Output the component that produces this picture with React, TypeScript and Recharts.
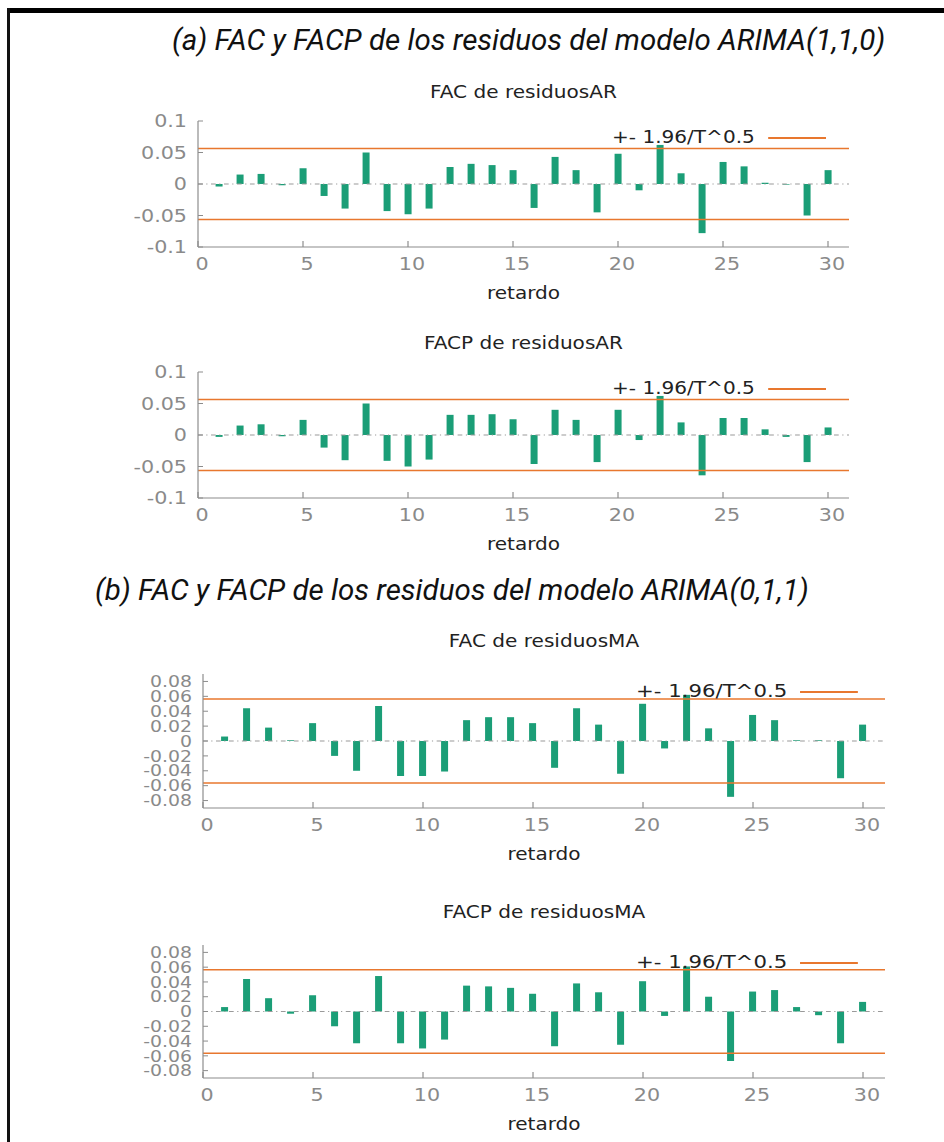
import { Bar, ComposedChart, Legend, ReferenceLine, XAxis, YAxis } from 'recharts';

// horizontal stretch of the original screenshot
const S = 1.18;
const FONT = '"DejaVu Sans", Verdana, sans-serif';
const HEAD_FONT = 'Roboto, "Noto Sans", sans-serif';

const lags = [1, 2, 3, 4, 5, 6, 7, 8, 9, 10, 11, 12, 13, 14, 15, 16, 17, 18, 19, 20, 21, 22, 23, 24, 25, 26, 27, 28, 29, 30];

const facAR = [-0.004, 0.015, 0.016, -0.002, 0.025, -0.019, -0.039, 0.05, -0.043, -0.048, -0.039, 0.027, 0.032, 0.03, 0.022, -0.038, 0.043, 0.022, -0.045, 0.048, -0.01, 0.062, 0.017, -0.078, 0.035, 0.028, 0.002, -0.001, -0.05, 0.022];
const facpAR = [-0.003, 0.015, 0.017, -0.002, 0.024, -0.02, -0.04, 0.05, -0.041, -0.05, -0.039, 0.032, 0.032, 0.033, 0.025, -0.046, 0.04, 0.024, -0.043, 0.04, -0.008, 0.062, 0.02, -0.064, 0.027, 0.027, 0.009, -0.003, -0.043, 0.012];
const facMA = [0.006, 0.044, 0.018, 0.001, 0.024, -0.02, -0.04, 0.047, -0.047, -0.047, -0.041, 0.028, 0.032, 0.032, 0.024, -0.036, 0.044, 0.022, -0.044, 0.05, -0.01, 0.062, 0.017, -0.075, 0.035, 0.028, 0.001, 0.001, -0.05, 0.022];
const facpMA = [0.006, 0.044, 0.018, -0.003, 0.022, -0.02, -0.043, 0.048, -0.043, -0.05, -0.038, 0.035, 0.034, 0.032, 0.024, -0.047, 0.038, 0.026, -0.045, 0.041, -0.006, 0.061, 0.02, -0.067, 0.027, 0.029, 0.006, -0.005, -0.043, 0.013];

const xTicks = [0, 5, 10, 15, 20, 25, 30];
const yTicksAR = [-0.1, -0.05, 0, 0.05, 0.1];
const yTicksMA = [-0.08, -0.06, -0.04, -0.02, 0, 0.02, 0.04, 0.06, 0.08];
const critical = 0.0565; // 1.96/T^0.5

const rows = lags.map((lag, i) => ({
  lag,
  facAR: facAR[i],
  facpAR: facpAR[i],
  facMA: facMA[i],
  facpMA: facpMA[i],
}));

const panels = [
  { key: 'facAR', title: 'FAC de residuosAR', domain: [-0.1, 0.1], ticks: yTicksAR, yFont: 17.5, legendFont: 17, left: 198, right: 849, top: 121, bottom: 247, titleGap: 29, legendLeft: 612 },
  { key: 'facpAR', title: 'FACP de residuosAR', domain: [-0.1, 0.1], ticks: yTicksAR, yFont: 17.5, legendFont: 17, left: 198, right: 849, top: 372, bottom: 498, titleGap: 29, legendLeft: 612 },
  { key: 'facMA', title: 'FAC de residuosMA', domain: [-0.09, 0.09], ticks: yTicksMA, yFont: 16, legendFont: 18, left: 203, right: 885, top: 674, bottom: 808, titleGap: 33, legendLeft: 636 },
  { key: 'facpMA', title: 'FACP de residuosMA', domain: [-0.09, 0.09], ticks: yTicksMA, yFont: 16, legendFont: 18, left: 203, right: 885, top: 945, bottom: 1078, titleGap: 33, legendLeft: 636 },
];

type Panel = (typeof panels)[number];

const LegendBox = ({ size }: { size: number }) => (
  <div style={{ display: 'flex', alignItems: 'center', fontFamily: FONT, fontSize: size, color: '#222', whiteSpace: 'nowrap' }}>
    <span>+- 1.96/T^0.5</span>
    <span style={{ display: 'inline-block', width: 58 / S, height: 2, background: '#e8772e', marginLeft: 13 / S, marginTop: 2 }} />
  </div>
);

function Correlogram({ p }: { p: Panel }) {
  const mt = 12;
  const xh = 70;
  const W = 944 / S;
  const plotH = p.bottom - p.top;
  const center = (p.left + p.right) / 2 / S;

  return (
    <>
      <div
        style={{
          position: 'absolute',
          top: p.top - p.titleGap - 10,
          left: center - 150,
          width: 300,
          textAlign: 'center',
          fontFamily: FONT,
          fontSize: 17,
          lineHeight: '20px',
          color: '#222',
        }}
      >
        {p.title}
      </div>
      <div style={{ position: 'absolute', top: p.top - mt, left: 0 }}>
        <ComposedChart
          width={W}
          height={mt + plotH + xh}
          data={rows}
          margin={{ top: mt, right: (944 - p.right) / S, bottom: 0, left: 0 }}
        >
          <XAxis
            dataKey="lag"
            type="number"
            domain={[0, 31]}
            ticks={xTicks}
            interval={0}
            allowDataOverflow
            height={xh}
            stroke="#8c8c8c"
            tickSize={-6}
            tickMargin={17}
            tick={{ fill: '#8a8a8a', fontSize: 17.5, fontFamily: FONT, dx: 4 / S }}
            label={{ value: 'retardo', position: 'insideBottom', offset: 18, fill: '#222', fontSize: 17, fontFamily: FONT }}
          />
          <YAxis
            type="number"
            domain={p.domain}
            ticks={p.ticks}
            interval={0}
            allowDataOverflow
            width={p.left / S}
            stroke="#8c8c8c"
            tickSize={-5 / S}
            tickMargin={16 / S}
            tick={{ fill: '#8a8a8a', fontSize: p.yFont, fontFamily: FONT }}
          />
          <ReferenceLine y={0} stroke="#9a9a9a" strokeDasharray="4 3 1 3" />
          <Bar dataKey={p.key} fill="#1b9e77" barSize={7 / S} isAnimationActive={false} />
          <ReferenceLine y={critical} stroke="#e8772e" strokeWidth={1.5} />
          <ReferenceLine y={-critical} stroke="#e8772e" strokeWidth={1.5} />
          <Legend
            layout="horizontal"
            align="center"
            verticalAlign="middle"
            content={() => <LegendBox size={p.legendFont} />}
            wrapperStyle={{ top: mt + 17 - 11, left: p.legendLeft / S, width: 'auto' }}
          />
        </ComposedChart>
      </div>
    </>
  );
}

export default function App() {
  const headStyle = {
    position: 'absolute' as const,
    fontFamily: HEAD_FONT,
    fontStyle: 'italic',
    fontSize: 29.5,
    lineHeight: '36px',
    color: '#111',
    whiteSpace: 'nowrap' as const,
  };
  return (
    <div style={{ position: 'absolute', left: 0, top: 0, width: 944, height: 1142, background: '#fff', overflow: 'hidden' }}>
      <div style={{ position: 'absolute', left: 7, right: 0, top: 8, height: 5, background: '#000' }} />
      <div style={{ position: 'absolute', left: 7, top: 8, width: 3, bottom: 0, background: '#111' }} />
      <div style={{ ...headStyle, left: 172, top: 22 }}>(a) FAC y FACP de los residuos del modelo ARIMA(1,1,0)</div>
      <div style={{ ...headStyle, left: 95, top: 572 }}>(b) FAC y FACP de los residuos del modelo ARIMA(0,1,1)</div>
      <div
        style={{
          position: 'absolute',
          left: 0,
          top: 0,
          width: 944 / S,
          height: 1142,
          transform: `scaleX(${S})`,
          transformOrigin: '0 0',
        }}
      >
        {panels.map((p) => (
          <Correlogram key={p.key} p={p} />
        ))}
      </div>
    </div>
  );
}
